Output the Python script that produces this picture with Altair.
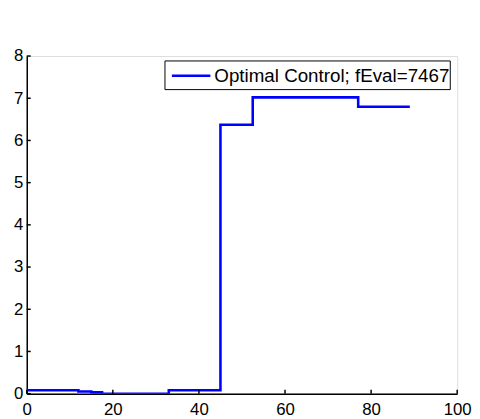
import altair as alt
import pandas as pd

# Data (piecewise-constant control)
t_vals = [0, 12, 15, 17.5, 33, 45, 52.5, 77, 89]
u_vals = [0.08, 0.05, 0.03, 0.0, 0.08, 6.37, 7.02, 6.80, 6.80]
series_name = "Optimal Control; fEval=7467"

x_ticks = [0, 20, 40, 60, 80, 100]
y_ticks = [0, 1, 2, 3, 4, 5, 6, 7, 8]

W, H = 436, 342
FONT = "Liberation Sans"
BLUE = "#0000ff"

df = pd.DataFrame({"t": t_vals, "u": u_vals})
xt = pd.DataFrame({"v": x_ticks})
yt = pd.DataFrame({"v": y_ticks})
leg = pd.DataFrame({"name": [series_name]})

xscale = alt.Scale(domain=[0, 100], nice=False, zero=False)
yscale = alt.Scale(domain=[0, 8], nice=False, zero=False)

line = alt.Chart(df).mark_line(strokeWidth=2.6, interpolate="step-after", clip=True, color=BLUE).encode(
    x=alt.X("t:Q", scale=xscale, axis=alt.Axis(
        values=x_ticks, title=None, ticks=False, grid=False,
        domainColor="black", domainWidth=1.5, labelColor="black",
        labelFont=FONT, labelFontSize=17, labelPadding=8, labelFlush=False)),
    y=alt.Y("u:Q", scale=yscale, axis=alt.Axis(
        values=y_ticks, title=None, ticks=False, grid=False,
        domainColor="black", domainWidth=1.5, labelColor="black",
        labelFont=FONT, labelFontSize=17, labelPadding=4, labelFlush=False)),
)

xtick_marks = alt.Chart(xt).mark_rule(color="black", strokeWidth=1.5).encode(
    x=alt.X("v:Q", scale=xscale), y=alt.value(H), y2=alt.value(H - 4))
ytick_marks = alt.Chart(yt).mark_rule(color="black", strokeWidth=1.5).encode(
    y=alt.Y("v:Q", scale=yscale), x=alt.value(0), x2=alt.value(4))

# Legend box (drawn manually to match MATLAB style)
leg_box = alt.Chart(leg).mark_rect(fill="white", stroke="black", strokeWidth=1).encode(
    x=alt.value(140), x2=alt.value(429), y=alt.value(5), y2=alt.value(34))
leg_line = alt.Chart(leg).mark_rule(color=BLUE, strokeWidth=2.6).encode(
    x=alt.value(147), x2=alt.value(186), y=alt.value(20))
leg_text = alt.Chart(leg).mark_text(
    align="left", baseline="middle", font=FONT, fontSize=19, color="black").encode(
    x=alt.value(190), y=alt.value(20.5), text="name:N")

chart = alt.layer(line, xtick_marks, ytick_marks, leg_box, leg_line, leg_text).properties(
    width=W, height=H,
    autosize=alt.AutoSizeParams(type="none"),
    padding={"left": 19, "top": 46, "right": 15, "bottom": 22},
).configure_view(stroke=None).configure(background="white")

chart.save("out.html", embed_options={"renderer": "svg", "actions": False})
